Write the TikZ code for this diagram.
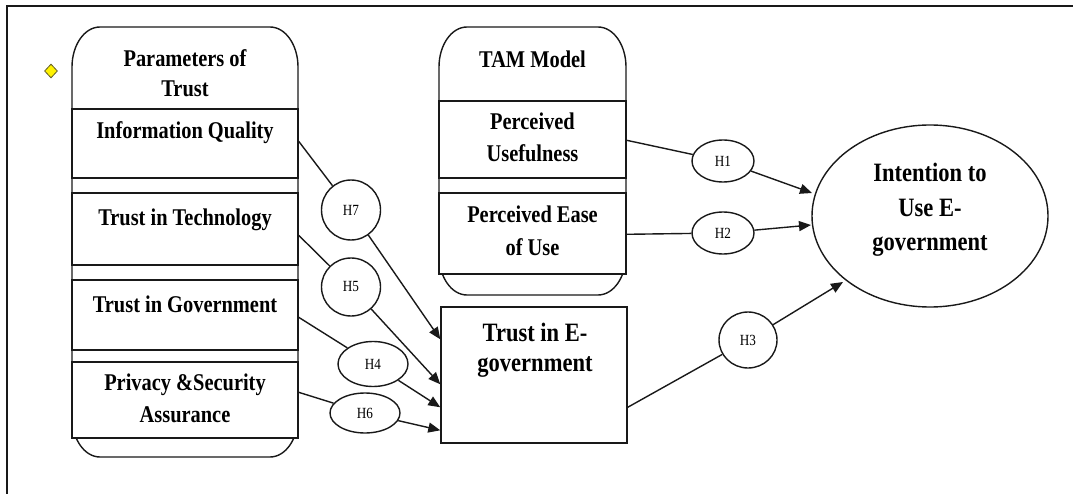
\documentclass[tikz,border=0pt]{standalone}
\usepackage{fontspec}
\setmainfont{Liberation Serif}[FakeStretch=0.85]
\usetikzlibrary{arrows.meta,shapes.geometric,calc}
\tikzset{
  ln/.style={line width=1.4pt, draw=black!90},
  cell/.style={ln, rectangle, fill=white, inner sep=0pt},
  lbl/.style={font=\fontsize{24}{30}\selectfont\bfseries, anchor=base, inner sep=0pt},
  lblL/.style={font=\fontsize{26.5}{32}\selectfont\bfseries, anchor=base, inner sep=0pt},
  hyp/.style={ln, ellipse, fill=white, inner sep=0pt, font=\fontsize{15.5}{17}\selectfont},
  arr/.style={ln, -{Triangle[length=12pt,width=10pt]}},
}
\begin{document}
\begin{tikzpicture}[x=1pt,y=-1pt]
\useasboundingbox (0,0) rectangle (1073,494);
% frame
\draw[ln] (7,494) -- (7,6) -- (1073,6);
% diamond marker
\node[diamond, draw=olive!60!black, fill=yellow, minimum width=13pt, minimum height=14pt, inner sep=0pt, line width=0.8pt] (dm) at (51,71) {};

% Parameters of Trust container
\draw[ln, fill=white] (72,67) arc[start angle=180,end angle=270,x radius=28,y radius=40]
  -- (270,27) arc[start angle=270,end angle=360,x radius=28,y radius=40]
  -- (298,417) arc[start angle=0,end angle=90,x radius=28,y radius=40]
  -- (100,457) arc[start angle=90,end angle=180,x radius=28,y radius=40] -- cycle;
\node[cell, minimum width=226pt, minimum height=69pt] (iq) at (185,143.5) {};
\node[cell, minimum width=226pt, minimum height=72pt] (tt) at (185,229) {};
\node[cell, minimum width=226pt, minimum height=70pt] (tg) at (185,315) {};
\node[cell, minimum width=226pt, minimum height=76pt] (ps) at (185,400) {};
\node[lbl] (pt1) at (185,67) {Parameters of};
\node[lbl] (pt2) at (185,97) {Trust};
\node[lbl] (iqt) at (185,139) {Information Quality};
\node[lbl] (ttt) at (185,226) {Trust in Technology};
\node[lbl] (tgt) at (185,312) {Trust in Government};
\node[lbl] (pst1) at (185,390) {Privacy \&Security};
\node[lbl] (pst2) at (185,422) {Assurance};

% TAM container
\draw[ln, fill=white] (439,67) arc[start angle=180,end angle=270,x radius=28,y radius=40]
  -- (598,27) arc[start angle=270,end angle=360,x radius=28,y radius=40]
  -- (626,255) arc[start angle=0,end angle=90,x radius=28,y radius=40]
  -- (467,295) arc[start angle=90,end angle=180,x radius=28,y radius=40] -- cycle;
\node[cell, minimum width=187pt, minimum height=77pt] (pu) at (532.5,139.5) {};
\node[cell, minimum width=187pt, minimum height=81pt] (peu) at (532.5,233.5) {};
\node[lbl] (tam) at (532.5,68) {TAM Model};
\node[lbl] (pu1) at (532.5,130) {Perceived};
\node[lbl] (pu2) at (532.5,162) {Usefulness};
\node[lbl] (peu1) at (532.5,223) {Perceived Ease};
\node[lbl] (peu2) at (532.5,256) {of Use};

% Trust in E-government
\node[cell, minimum width=186pt, minimum height=136pt] (teg) at (534,375) {};
\node[lblL] (teg1) at (535,341) {Trust in E-};
\node[lblL] (teg2) at (535,371) {government};

% Intention
\node[ln, ellipse, minimum width=236pt, minimum height=182pt, inner sep=0pt] (int) at (930,216) {};
\node[lblL] (int1) at (930,182) {Intention to};
\node[lblL] (int2) at (930,217) {Use E-};
\node[lblL] (int3) at (930,251) {government};

% hypothesis ellipses
\node[hyp, minimum width=62pt, minimum height=42pt] (h1) at (723,161) {H1};
\node[hyp, minimum width=62pt, minimum height=42pt] (h2) at (723,233) {H2};
\node[hyp, minimum width=58pt, minimum height=56pt] (h3) at (748,340) {H3};
\node[hyp, minimum width=59pt, minimum height=60pt] (h7) at (351,210) {H7};
\node[hyp, minimum width=59pt, minimum height=58pt] (h5) at (351,287) {H5};
\node[hyp, minimum width=70pt, minimum height=45pt] (h4) at (373,364) {H4};
\node[hyp, minimum width=70pt, minimum height=40pt] (h6) at (365,413) {H6};

% anchor points
\coordinate (s7) at ($(iq.north east)+(0,33)$);
\coordinate (s5) at ($(tt.north east)+(0,43)$);
\coordinate (s4) at ($(tg.north east)+(0,38)$);
\coordinate (s6) at ($(ps.north east)+(0,31)$);
\coordinate (t7) at ($(teg.north west)+(0,33)$);
\coordinate (t5) at ($(teg.north west)+(0,78)$);
\coordinate (t4) at ($(teg.north west)+(0,101)$);
\coordinate (t6) at ($(teg.north west)+(0,124)$);
\coordinate (s1) at ($(pu.north east)+(0,40)$);
\coordinate (s2) at ($(peu.north east)+(0,42)$);
\coordinate (s3) at ($(teg.north east)+(0,101)$);
\coordinate (e1) at (812,193);
\coordinate (e2) at (811,225);
\coordinate (e3) at (843,282);

% connectors
\draw[ln] (s7) -- (h7);  \draw[arr] (h7) -- (t7);
\draw[ln] (s5) -- (h5);  \draw[arr] (h5) -- (t5);
\draw[ln] (s4) -- (h4);  \draw[arr] (h4) -- (t4);
\draw[ln] (s6) -- (h6);  \draw[arr] (h6) -- (t6);
\draw[ln] (s1) -- (h1);  \draw[arr] (h1) -- (e1);
\draw[ln] (s2) -- (h2);  \draw[arr] (h2) -- (e2);
\draw[ln] (s3) -- (h3);  \draw[arr] (h3) -- (e3);
\end{tikzpicture}
\end{document}
